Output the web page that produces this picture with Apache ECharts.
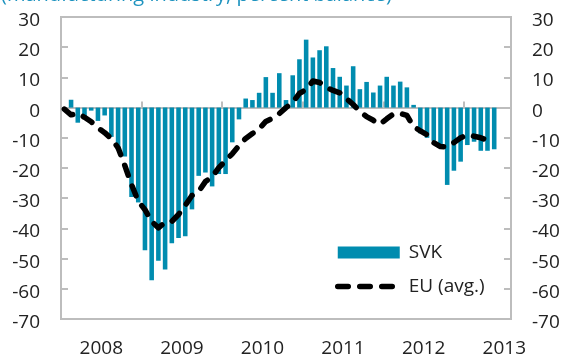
<!DOCTYPE html>
<html>
<head>
<meta charset="utf-8">
<script src="https://cdn.jsdelivr.net/npm/echarts@6/dist/echarts.min.js"></script>
<style>
  html, body { margin: 0; padding: 0; background: #ffffff; }
  #chart { width: 566px; height: 358px; }
</style>
</head>
<body>
<div id="chart"></div>
<script>
// Monthly survey readings, Jan 2008 – Jul 2013
const years = ['2008', '2009', '2010', '2011', '2012', '2013'];
const monthNames = ['01', '02', '03', '04', '05', '06', '07', '08', '09', '10', '11', '12'];
const monthCount = 67;

// Slovakia, industrial confidence (percent balance)
const svk = [
  -1.0, 2.6, -5.0, -3.0, -1.0, -4.4, -2.6, -9.7, -14.0, -16.2, -29.6, -31.4,
  -47.2, -57.2, -50.7, -53.6, -44.9, -43.2, -42.6, -33.7, -22.6, -21.5, -26.1, -22.0,
  -22.0, -11.5, -3.9, 3.0, 2.5, 4.9, 10.1, 4.9, 11.4, 2.5, 10.7, 16.0,
  22.5, 16.6, 19.0, 20.3, 13.1, 10.2, 7.3, 13.7, 6.1, 8.5, 5.0, 7.3,
  10.2, 7.3, 8.6, 6.7, 0.9, -8.5, -10.0, -11.0, -12.5, -25.6, -20.9, -17.9,
  -12.4, -11.3, -14.3, -14.3, -13.8, null, null
];

// EU average
const eu = [
  -0.5, -2.4, -1.9, -3.2, -4.7, -6.7, -8.3, -10.3, -13.3, -19.2, -25.5, -31.0,
  -33.8, -37.7, -39.8, -38.0, -37.7, -35.4, -32.4, -29.1, -27.8, -24.5, -22.9, -19.9,
  -17.6, -15.3, -12.6, -10.2, -8.6, -7.0, -4.6, -3.5, -2.0, 0.0, 1.7, 4.7,
  6.0, 8.8, 8.3, 6.7, 5.7, 4.9, 3.0, 1.0, -1.2, -3.0, -4.2, -5.5,
  -3.7, -2.1, -1.9, -2.6, -6.3, -7.7, -9.0, -11.6, -12.9, -13.0, -11.6, -10.0,
  -9.0, -9.5, -10.0, -10.8, -10.2, null, null
];

const subtitle = '(manufacturing industry, percent balance)';
const font = '"Open Sans", "Noto Sans", sans-serif';
const grey = '#bdbdbd';
const teal = '#008caf';

const categories = [];
for (let i = 0; i < monthCount; i++) {
  categories.push(years[Math.floor(i / 12)] + '-' + monthNames[i % 12]);
}

const chart = echarts.init(document.getElementById('chart'), null, { renderer: 'canvas' });

// value labels sit slightly below their ticks
const yAxisCommon = {
  type: 'value',
  min: -70,
  max: 30,
  interval: 10,
  splitLine: { show: false },
  axisLine: { show: true, lineStyle: { color: grey, width: 2 } },
  axisTick: { show: true, inside: true, length: 7, lineStyle: { color: grey, width: 2 } },
  axisLabel: {
    margin: 21,
    formatter: function (v) { return '{v|' + v + '}'; },
    rich: { v: { color: '#222222', fontFamily: font, fontSize: 19, padding: [7, 0, 0, 0] } }
  }
};

chart.setOption({
  animation: false,
  backgroundColor: '#ffffff',
  graphic: [{
    type: 'text',
    left: 1,
    top: -15,
    style: { text: subtitle, font: '20px ' + font, fill: '#1e93bf' }
  }],
  grid: {
    left: 61, right: 55, top: 17, bottom: 38,
    show: true, borderColor: grey, borderWidth: 2
  },
  legend: {
    orient: 'vertical',
    left: 335,
    top: 243,
    padding: 0,
    itemWidth: 62,
    itemHeight: 12,
    itemGap: 15,
    selectedMode: false,
    textStyle: { color: '#222222', fontFamily: font, fontSize: 19, padding: [0, 0, 0, 4] },
    data: [
      { name: 'SVK', icon: 'rect' },
      {
        name: 'EU (avg.)',
        itemStyle: { opacity: 0 },
        lineStyle: { color: '#000000', width: 5.5, type: [10.5, 11.5], cap: 'round', opacity: 1 }
      }
    ]
  },
  xAxis: [{
    type: 'category',
    data: categories,
    boundaryGap: true,
    axisLine: { onZero: true, lineStyle: { color: grey, width: 2 } },
    axisTick: {
      show: true, inside: true, length: 6,
      interval: function (i) { return i % 12 === 0; },
      lineStyle: { color: grey, width: 2 }
    },
    axisLabel: { show: false },
    splitLine: { show: false }
  }, {
    // year labels centred on each calendar year
    type: 'value',
    position: 'bottom',
    min: 0,
    max: monthCount,
    interval: 6,
    axisLine: { show: false, onZero: false },
    axisTick: { show: false },
    splitLine: { show: false },
    axisLabel: {
      show: true, showMaxLabel: false, showMinLabel: false,
      margin: 20, color: '#222222', fontFamily: font, fontSize: 19,
      formatter: function (v) { return v % 12 === 6 ? years[(v - 6) / 12] : ''; }
    }
  }],
  yAxis: [
    Object.assign({}, yAxisCommon, { position: 'left' }),
    Object.assign({}, yAxisCommon, { position: 'right' })
  ],
  series: [{
    name: 'SVK',
    type: 'bar',
    data: svk,
    xAxisIndex: 0,
    yAxisIndex: 0,
    barCategoryGap: '32%',
    itemStyle: { color: teal },
    z: 2
  }, {
    name: 'EU (avg.)',
    type: 'line',
    data: eu,
    xAxisIndex: 0,
    yAxisIndex: 0,
    symbol: 'none',
    connectNulls: false,
    itemStyle: { color: '#000000' },
    lineStyle: { color: '#000000', width: 5.5, type: [10.5, 11.5], cap: 'round', join: 'round' },
    z: 3
  }]
});
</script>
</body>
</html>
